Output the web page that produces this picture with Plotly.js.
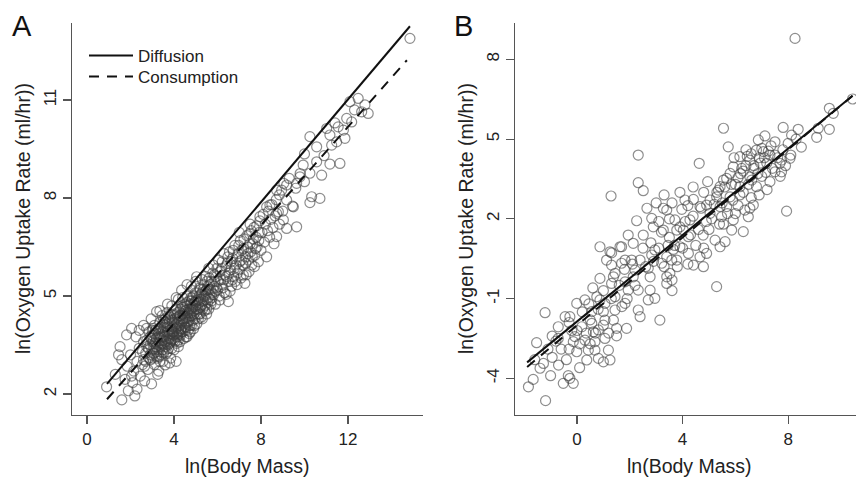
<!DOCTYPE html>
<html>
<head>
<meta charset="utf-8">
<script src="https://cdn.plot.ly/plotly-3.0.1.min.js"></script>
<style>html,body{margin:0;padding:0;background:#fff;}#chart{width:856px;height:477px;}</style>
</head>
<body>
<div id="chart"></div>
<script>
// Panel A: ln(Body Mass) vs ln(Oxygen Uptake Rate)
const massA = [
0.9,1.6,2.2,2.97,1.52,1.82,2.05,2.74,1.3,1.75,
1.9,2.1,2.3,1.6,1.85,2.0,2.15,2.3,2.45,2.4,
2.55,2.6,2.7,2.8,2.85,2.9,1.45,2.25,2.65,2.05,
3.0,3.0,3.05,3.1,3.1,3.15,3.2,3.2,3.25,3.3,
3.3,3.35,3.4,3.4,3.45,3.5,3.5,3.55,3.59,3.6,
3.65,3.7,3.7,3.75,3.8,3.8,3.85,3.9,3.9,3.95,
4.0,4.0,4.05,4.1,4.1,4.15,4.2,4.2,4.25,4.28,
4.3,4.35,4.35,4.4,4.45,4.5,4.5,4.55,4.6,4.6,
4.65,4.7,4.7,4.75,4.8,4.8,4.85,4.9,4.9,4.95,
5.0,5.0,5.04,5.05,5.1,5.15,5.2,5.25,5.3,5.3,
2.4,2.6,2.95,3.35,3.7,4.1,4.6,3.25,3.8,4.2,
4.6,3.5,3.9,4.4,4.75,2.6,2.75,2.9,3.05,3.15,
3.3,3.45,3.55,3.65,3.7,3.85,3.95,4.05,4.15,4.25,
4.3,4.45,4.55,4.65,4.75,4.85,4.95,5.05,5.15,5.25,
5.35,5.45,5.5,5.6,5.7,3.2,3.6,4.0,4.4,4.8,
5.2,3.35,3.75,4.15,4.55,5.4,5.45,5.5,5.55,5.6,
5.65,5.7,5.75,5.8,5.85,5.9,5.95,6.0,6.05,6.11,
6.15,6.2,6.25,6.3,6.35,6.4,6.45,6.5,6.5,6.55,
6.6,6.65,6.7,6.75,6.8,6.85,6.9,6.95,7.0,7.05,
7.1,7.19,7.2,7.26,7.3,7.35,7.4,7.45,7.5,7.55,
7.6,7.65,7.7,7.75,7.8,7.88,7.9,7.95,8.0,8.05,
8.1,8.15,8.2,8.26,8.3,8.35,8.4,8.45,8.5,8.55,
8.6,8.65,8.7,8.72,8.85,8.85,9.0,9.03,9.05,9.3,
9.45,9.6,9.8,10.0,8.26,7.95,8.72,8.72,7.5,7.0,
14.85,12.47,12.09,12.78,12.93,12.63,11.94,12.17,11.55,11.79,
11.02,11.17,11.86,10.25,10.56,11.25,11.48,10.56,11.17,11.63,
9.94,10.25,10.79,9.79,9.18,9.64,8.95,9.18,10.33,10.71,
10.25,9.49,8.41,8.80,9.64,9.18,11.4,12.3,10.9,10.0,
2.82,2.92,3.02,3.08,3.12,3.18,3.22,3.28,3.32,3.38,
3.42,3.48,3.52,3.58,3.62,3.68,3.72,3.78,3.82,3.88,
3.92,3.98,4.02,4.08,4.12,4.18,4.22,4.28,4.32,4.38,
4.42,4.48,4.52,4.58,4.62,4.68,4.72,4.78,4.82,4.88,
4.92,4.98,5.02,5.08,5.12,5.18,5.22,5.28,5.32,5.38,
5.42,5.48,5.52,5.58,5.62,5.68,5.72,5.78,5.82,5.88,
5.92,5.98,6.02,6.08,6.12,6.18,6.22,6.28,6.32,6.38,
6.42,6.48,6.52,6.58,6.62,6.68,6.72,6.78,6.82,6.88,
6.92,6.98,7.02,7.08,7.12,7.18,7.22,7.28,7.32,7.38,
7.42,7.48,7.52,7.58,7.62,7.68,7.72,7.78,7.82,7.92,
2.55,2.65,2.75,2.85,2.95,3.05,3.1,3.15,3.25,3.3,
3.35,3.4,3.45,3.5,3.55,3.6,3.65,3.7,3.75,3.8,
3.85,3.9,3.95,4.0,4.05,4.1,4.15,4.2,4.25,4.3,
4.35,4.4,4.45,4.5,4.55,4.6,4.65,4.7,4.75,4.8,
4.85,4.9,4.95,5.0,5.05,5.1,5.15,5.2,5.25,5.3,
5.35,5.4,5.45,5.5,5.55,5.6,5.65,5.75,5.85,5.95,
3.0,3.2,3.4,3.6,3.8,4.0,4.2,4.4,4.6,4.8,
2.7,2.9,3.1,3.3,3.5,3.7,3.9,4.1,4.3,4.5
];
const uptakeA = [
2.22,1.82,1.94,2.31,3.45,3.81,4.01,4.01,2.6,2.45,
2.1,2.35,2.15,3.05,2.85,3.2,2.7,3.0,2.55,3.4,
2.9,3.6,3.25,2.75,3.9,3.5,3.2,3.75,2.4,2.55,
3.1,3.8,3.45,2.9,4.1,3.6,4.52,3.3,3.95,2.7,
3.55,4.2,3.2,3.75,4.4,3.0,3.9,3.5,2.89,4.1,
3.7,3.3,4.5,3.95,3.55,4.25,3.1,4.0,4.7,3.7,
3.35,4.2,4.55,3.85,3.0,4.35,3.65,4.9,4.1,3.6,
4.6,3.9,5.18,4.3,3.7,4.75,4.05,3.75,4.5,5.0,
4.2,3.85,4.85,4.4,5.3,4.1,4.65,4.0,5.0,4.3,
4.7,5.45,5.59,4.15,4.9,4.45,5.2,4.7,4.3,5.5,
3.95,4.1,4.3,4.55,4.75,4.95,5.35,2.6,2.95,3.45,
3.75,4.25,3.4,4.95,3.9,3.05,3.65,3.2,4.0,3.35,
3.85,3.35,4.05,3.25,3.9,4.45,3.9,3.6,4.05,4.4,
3.8,4.15,4.55,3.95,4.6,4.25,4.8,4.45,5.0,4.35,
4.85,5.15,4.45,5.2,4.75,3.7,3.9,3.9,4.45,4.85,
4.65,3.0,3.4,3.8,4.3,5.0,5.6,4.6,5.3,5.85,
4.9,5.45,5.1,5.95,5.3,4.75,5.6,5.2,6.1,4.88,
5.5,5.85,5.25,6.3,5.65,5.05,6.0,4.83,5.45,6.35,
5.8,5.3,6.15,5.6,6.55,5.95,5.35,6.3,5.8,6.7,
6.1,5.64,6.45,5.39,6.0,6.85,6.3,5.75,6.6,7.0,
6.2,6.75,5.9,6.45,7.15,6.05,6.7,7.3,6.4,6.95,
7.5,6.65,7.2,6.2,7.0,7.6,6.8,7.35,7.8,7.1,
6.6,7.45,7.95,6.82,7.2,8.1,7.6,7.33,8.45,8.6,
7.75,8.3,8.75,8.5,7.73,7.43,7.53,8.24,7.2,6.95,
12.89,11.05,10.95,10.85,10.59,10.64,10.44,10.33,10.18,10.08,
10.13,9.93,9.83,9.88,9.57,9.62,9.72,9.11,9.04,9.06,
9.01,8.76,8.70,8.65,8.40,8.45,8.24,7.94,8.04,7.99,
7.86,7.73,7.79,7.58,7.12,7.07,10.3,10.7,9.3,9.35,
3.4,3.05,3.6,3.25,3.85,3.45,3.1,3.75,3.35,4.0,
3.55,3.8,3.25,4.2,3.6,4.05,3.5,3.8,4.35,3.65,
4.2,3.8,4.4,4.0,3.55,4.5,4.0,4.25,3.95,4.7,
4.25,4.4,3.95,4.8,4.35,4.6,4.1,4.95,4.5,4.75,
4.45,5.1,4.6,4.85,4.3,5.25,4.9,5.1,4.6,5.35,
4.7,5.05,5.45,4.95,5.55,5.2,4.85,5.7,5.05,5.45,
5.15,5.85,5.45,5.0,5.75,5.35,6.05,5.5,5.1,5.9,
5.6,6.2,5.7,5.15,6.05,5.5,6.4,5.85,5.45,6.2,
5.7,6.55,6.05,5.55,6.4,5.95,6.75,6.2,5.65,6.5,
6.1,6.9,6.35,5.95,6.6,7.1,6.25,6.8,6.5,6.95,
3.3,2.85,3.45,3.1,3.7,3.25,3.55,3.95,3.5,3.15,
3.7,4.05,3.55,3.35,3.75,3.45,4.15,3.65,4.3,3.85,
3.6,4.25,4.05,3.65,4.3,4.15,3.75,4.2,3.85,4.4,
4.2,3.9,4.6,4.3,4.05,4.7,4.45,4.25,4.75,4.4,
4.95,4.55,4.1,4.85,5.1,4.6,4.8,4.45,5.05,4.75,
5.2,4.55,4.9,5.2,4.8,4.6,5.35,4.95,5.65,5.25,
3.95,3.15,3.45,4.3,3.7,4.45,3.9,4.65,4.2,4.6,
3.0,3.75,3.4,4.0,3.65,4.15,3.85,4.6,4.0,4.55
];
// Panel B
const massB = [
8.26,10.44,9.56,9.71,9.56,9.08,9.14,8.38,7.81,8.13,
8.0,7.75,7.75,7.94,7.5,7.12,6.87,5.55,5.73,4.63,
2.32,2.32,2.51,1.29,2.26,2.83,4.41,5.55,6.30,6.24,
6.55,7.06,6.62,6.36,6.49,8.07,7.31,6.17,5.92,6.8,
7.0,6.7,7.19,6.55,7.31,7.69,5.67,5.36,5.8,6.55,
4.91,5.42,5.04,6.8,6.17,7.5,3.40,3.97,3.71,3.27,
2.89,2.51,1.94,1.63,2.13,1.25,1.12,1.82,2.39,2.95,
3.40,3.90,4.22,4.78,5.23,5.86,4.66,4.41,4.79,3.52,
2.77,2.13,1.38,3.40,5.29,6.17,6.68,5.67,5.29,5.48,
5.92,4.28,4.03,3.78,5.42,4.91,4.22,3.78,-1.21,-1.53,
-1.84,-1.19,-1.66,-1.4,-1.27,-0.94,-0.94,-0.71,-0.45,-0.01,
0.30,0.75,0.87,-0.52,-0.27,-0.14,-0.08,-0.14,-0.01,0.43,
0.37,0.81,1.0,1.25,1.19,0.68,0.68,1.06,0.81,1.50,
1.88,1.38,1.06,0.56,0.18,1.0,1.44,0.56,1.06,1.44,
1.82,2.32,2.39,3.14,2.95,2.70,2.77,3.6,3.40,2.32,
1.94,1.82,1.31,1.44,1.31,1.69,2.20,2.07,2.7,2.83,
3.21,3.59,3.65,0.87,-0.27,-0.71,0.30,0.62,-0.33,0.87,
1.31,1.69,5.61,3.27,3.5,4.09,4.66,5.04,5.42,5.55,
5.8,6.4,2.1,2.2,2.5,2.6,2.8,2.9,3.1,3.2,
3.3,3.45,3.5,3.6,3.7,3.8,3.9,4.0,4.1,4.2,
4.3,4.4,4.5,4.6,4.7,4.8,4.9,5.0,5.1,5.2,
5.3,5.4,5.5,5.6,5.7,5.85,5.9,6.0,6.1,6.2,
6.3,6.4,6.5,6.6,6.7,6.85,6.9,7.0,7.1,7.2,
7.35,7.4,7.5,7.6,7.7,7.8,7.9,8.1,8.3,8.5,
0.5,0.6,0.7,0.8,1.0,1.0,1.2,1.5,1.6,1.7,
1.8,1.9,-0.3,-0.2,0.1,0.2,0.35,-0.6,-0.4,0.1,
3.0,3.3,3.6,3.9,4.2,4.4,4.8,4.95,3.1,2.65,
5.95,6.1,6.3,6.45,6.6,6.95,7.15,7.25,6.0,6.9,
-0.8,-1.1,-1.6,-0.3,0.45,-1.0,0.0,0.5,-0.7,1.3
];
const uptakeB = [
8.79,6.51,6.16,5.97,5.37,5.07,5.41,5.37,5.44,5.15,
4.84,4.21,3.77,2.29,4.40,5.12,4.97,5.41,4.71,4.09,
4.40,3.36,3.06,2.86,1.93,2.02,2.73,1.80,1.52,3.90,
4.21,4.53,3.46,2.33,2.08,4.28,4.40,4.34,3.96,4.59,
4.65,4.0,4.09,3.58,3.40,4.09,3.52,3.08,2.83,2.40,
2.52,2.46,2.21,3.21,2.90,3.77,2.33,2.36,1.96,1.58,
1.70,1.39,1.39,0.95,1.08,0.76,0.45,0.45,0.45,0.83,
0.57,0.95,1.33,1.39,1.20,1.58,0.57,0.26,0.20,-0.05,
-0.18,-0.18,-0.18,-0.43,-0.55,3.21,2.52,2.46,2.83,2.08,
1.96,1.96,1.58,1.58,0.95,0.70,0.70,0.45,-1.53,-2.66,
-4.32,-4.84,-4.04,-3.62,-3.44,-3.21,-2.41,-2.06,-1.68,-1.18,
-1.05,-0.93,-0.24,-4.19,-4.0,-4.19,-2.43,-2.62,-3.0,-2.94,
-3.31,-3.25,-3.38,-3.31,-2.94,-2.94,-2.62,-2.50,-2.18,-2.12,
-2.12,-1.81,-1.81,-1.93,-2.06,-1.49,-1.43,-1.49,-1.18,-0.93,
-1.18,-1.43,-1.68,-1.81,-0.99,-1.05,-0.68,-0.7,-0.18,-0.68,
-0.68,-0.37,-0.43,-0.05,0.26,0.33,0.07,0.45,0.14,0.64,
0.33,0.45,0.85,-1.05,-1.68,-2.5,-2.56,-2.25,-3.9,0.95,
0.72,0.95,1.14,2.40,2.0,2.71,2.46,2.71,3.21,3.46,
3.71,4.6,0.3,-0.5,0.9,0.2,1.1,0.4,0.9,1.5,
0.2,1.0,1.3,-0.3,1.0,0.2,1.7,0.9,1.9,0.3,
1.4,2.1,1.0,1.6,2.4,0.9,1.9,1.6,2.0,2.55,
3.0,1.8,2.6,3.2,2.2,3.3,2.7,3.3,2.5,3.7,
3.0,4.0,3.3,2.8,3.9,3.7,4.3,3.6,4.3,3.1,
4.75,3.9,4.9,4.3,3.6,4.6,4.0,4.4,5.0,4.7,
-1.8,-0.6,-2.3,-1.4,-0.7,-2.0,-2.3,-2.4,-0.5,-1.3,
0.1,-1.0,-2.9,-2.2,-2.7,-1.5,-2.3,-2.9,-3.3,-3.6,
2.6,2.9,2.6,3.0,2.5,3.2,3.0,3.4,1.9,2.4,
4.3,3.55,3.8,4.35,4.45,4.1,3.75,4.55,2.2,2.9,
-2.6,-2.9,-3.3,-1.9,-1.2,-3.9,-2.2,-2.7,-3.5,-1.0
];
// Fitted lines (end points)
const diffA_x = [0.92, 14.85], diffA_y = [2.31, 13.26];
const consA_x = [0.92, 14.71], consA_y = [1.84, 12.22];
const diffB_x = [-1.89, 10.44], diffB_y = [-3.40, 6.63];
const consB_x = [-1.89, 10.44], consB_y = [-3.57, 6.63];
const ticksAx = [0, 4, 8, 12], ticksAy = [2, 5, 8, 11];
const ticksBx = [0, 4, 8], ticksBy = [-4, -1, 2, 5, 8];
const labelsBy = ['-4', '-1', '2', '5', '8'];

const FONT = '"Liberation Sans", Arial, Helvetica, sans-serif';
const W = 856, H = 477;
const px = v => v / W, py = v => 1 - v / H;

const marker = {symbol: 'circle-open', size: 10, color: 'rgba(60,60,60,0.58)', line: {width: 1.2, color: 'rgba(60,60,60,0.58)'}};

const traces = [
  {x: massA, y: uptakeA, mode: 'markers', type: 'scatter', marker: marker, showlegend: false, xaxis: 'x', yaxis: 'y', hoverinfo: 'skip'},
  {x: massB, y: uptakeB, mode: 'markers', type: 'scatter', marker: marker, showlegend: false, xaxis: 'x2', yaxis: 'y2', hoverinfo: 'skip'},
  {x: diffA_x, y: diffA_y, mode: 'lines', name: 'Diffusion', legend: 'legend', line: {color: '#111', width: 2}, xaxis: 'x', yaxis: 'y'},
  {x: consA_x, y: consA_y, mode: 'lines', name: 'Consumption', legend: 'legend2', line: {color: '#111', width: 2, dash: '10px,8px'}, xaxis: 'x', yaxis: 'y'},
  {x: diffB_x, y: diffB_y, mode: 'lines', showlegend: false, line: {color: '#111', width: 2}, xaxis: 'x2', yaxis: 'y2'},
  {x: consB_x, y: consB_y, mode: 'lines', showlegend: false, line: {color: '#111', width: 2, dash: '10px,8px'}, xaxis: 'x2', yaxis: 'y2'}
];

const axBase = {
  showline: true, linecolor: '#555', linewidth: 1.2, mirror: false,
  ticks: 'outside', ticklen: 8, tickwidth: 1.2, tickcolor: '#555',
  showgrid: false, zeroline: false, tickmode: 'array',
  tickfont: {family: FONT, size: 17, color: '#222'}, fixedrange: true
};
const legBase = {xanchor: 'left', yanchor: 'top', bgcolor: 'rgba(0,0,0,0)',
  font: {family: FONT, size: 17, color: '#222'}, itemwidth: 44, tracegroupgap: 0};

const layout = {
  width: W, height: H,
  margin: {l: 0, r: 0, t: 0, b: 0},
  paper_bgcolor: '#fff', plot_bgcolor: '#fff',
  font: {family: FONT, color: '#222'},
  showlegend: true,
  legend: Object.assign({}, legBase, {x: px(84), y: py(38)}),
  legend2: Object.assign({}, legBase, {x: px(84), y: py(59)}),
  xaxis: Object.assign({}, axBase, {domain: [px(72), px(423)], range: [-0.69, 15.45], tickvals: ticksAx, anchor: 'y'}),
  yaxis: Object.assign({}, axBase, {domain: [py(415), py(23)], range: [1.357, 13.36], tickvals: ticksAy, tickangle: -90, anchor: 'x'}),
  xaxis2: Object.assign({}, axBase, {domain: [px(514.7), 1], range: [-2.36, 10.57], tickvals: ticksBx, anchor: 'y2'}),
  yaxis2: Object.assign({}, axBase, {domain: [py(415), py(23)], range: [-5.38, 9.37], tickvals: ticksBy, ticktext: labelsBy, tickangle: -90, anchor: 'x2'}),
  annotations: [
    {text: 'A', x: px(22), y: py(26), xref: 'paper', yref: 'paper', showarrow: false, xanchor: 'center', yanchor: 'middle', font: {family: FONT, size: 29, color: '#111'}},
    {text: 'B', x: px(463), y: py(26), xref: 'paper', yref: 'paper', showarrow: false, xanchor: 'center', yanchor: 'middle', font: {family: FONT, size: 29, color: '#111'}},
    {text: 'ln(Body Mass)', x: px(247.5), y: py(466), xref: 'paper', yref: 'paper', showarrow: false, xanchor: 'center', yanchor: 'middle', font: {family: FONT, size: 19.5, color: '#222'}},
    {text: 'ln(Body Mass)', x: px(689), y: py(466), xref: 'paper', yref: 'paper', showarrow: false, xanchor: 'center', yanchor: 'middle', font: {family: FONT, size: 19.5, color: '#222'}},
    {text: 'ln(Oxygen Uptake Rate (ml/hr))', x: px(23), y: py(219), xref: 'paper', yref: 'paper', showarrow: false, textangle: -90, xanchor: 'center', yanchor: 'middle', font: {family: FONT, size: 19.5, color: '#222'}},
    {text: 'ln(Oxygen Uptake Rate (ml/hr))', x: px(466), y: py(219), xref: 'paper', yref: 'paper', showarrow: false, textangle: -90, xanchor: 'center', yanchor: 'middle', font: {family: FONT, size: 19.5, color: '#222'}}
  ]
};

Plotly.newPlot('chart', traces, layout, {displayModeBar: false, staticPlot: true});
</script>
</body>
</html>
